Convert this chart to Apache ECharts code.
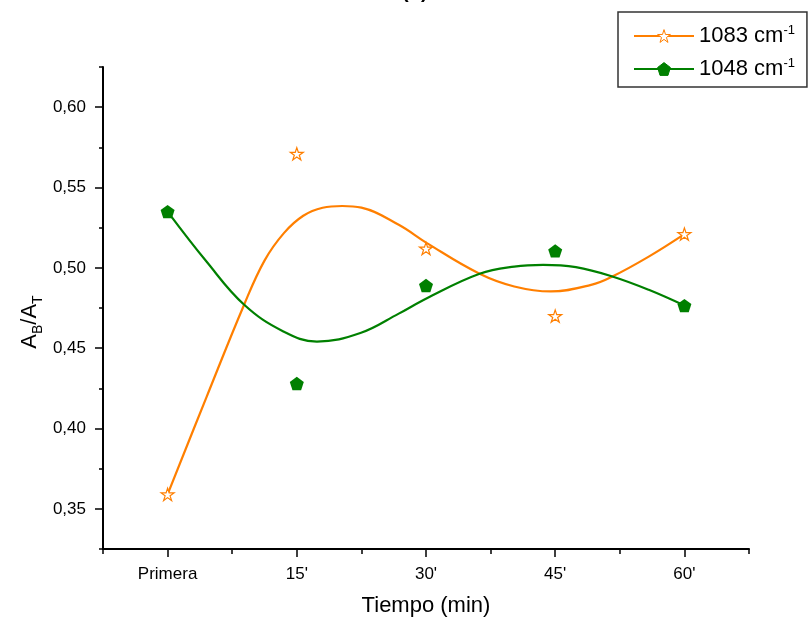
<!DOCTYPE html>
<html>
<head>
<meta charset="utf-8">
<script src="https://cdn.jsdelivr.net/npm/echarts@6/dist/echarts.min.js"></script>
<style>html,body{margin:0;padding:0;background:#fff;}#c{width:810px;height:622px;}</style>
</head>
<body>
<div id="c"></div>
<script>
// ---- data ----
const categories = ['Primera', "15'", "30'", "45'", "60'"];
const yTickLabels = ['0,35', '0,40', '0,45', '0,50', '0,55', '0,60'];
const names = ['1083', '1048'];
const points1083 = [0.359, 0.571, 0.512, 0.470, 0.521];
const points1048 = [0.535, 0.428, 0.489, 0.5105, 0.4765];
// fitted curves (x in category units)
const curve1083X = [0, 0.302, 0.593, 0.75, 0.9, 1.05, 1.2, 1.352, 1.5, 1.789, 2.007, 2.415, 2.683, 2.966, 3.278, 3.442, 3.724, 4];
const curve1083Y = [0.359, 0.4197, 0.4772, 0.5045, 0.5216, 0.5324, 0.5374, 0.5385, 0.5375, 0.5268, 0.5154, 0.4963, 0.4884, 0.4853, 0.4894, 0.4946, 0.5070, 0.521];
const curve1048X = [0, 0.301, 0.593, 0.896, 1.156, 1.492, 1.789, 2.007, 2.415, 2.683, 2.907, 3.160, 3.442, 3.724, 4];
const curve1048Y = [0.535, 0.5039, 0.4770, 0.4604, 0.4541, 0.4594, 0.4715, 0.4811, 0.4963, 0.5008, 0.5019, 0.5004, 0.4946, 0.4863, 0.4765];

const ORANGE = '#FF7F00';
const GREEN = '#008000';
const FONT = "'Liberation Sans', Arial, sans-serif";
const STAR = 'path://M0,-10 L2.25,-3.09 L9.51,-3.09 L3.63,1.18 L5.88,8.09 L0,3.82 L-5.88,8.09 L-3.63,1.18 L-9.51,-3.09 L-2.25,-3.09 Z';
const PENT = 'path://M0,-10 L9.51,-3.09 L5.88,8.09 L-5.88,8.09 L-9.51,-3.09 Z';

const chart = echarts.init(document.getElementById('c'), null, {renderer: 'canvas'});
const axisLine = {show: true, onZero: false, lineStyle: {color: '#000', width: 2}};
chart.setOption({
  animation: false,
  backgroundColor: '#fff',
  textStyle: {fontFamily: FONT},
  graphic: [{type: 'text', left: 402, top: -18, style: {text: '(b)', font: 'bold 20px ' + FONT, fill: '#000'}}],
  grid: {left: 103, right: 61, top: 67, bottom: 73, containLabel: false},
  legend: {
    data: names,
    orient: 'vertical',
    left: 618, top: 12,
    padding: [12, 12, 6, 15],
    itemGap: 9,
    itemWidth: 60, itemHeight: 16,
    borderColor: '#333', borderWidth: 1.5,
    itemStyle: {borderWidth: 1},
    formatter: n => n + ' cm{sup|-1}',
    textStyle: {fontSize: 22, color: '#000', fontFamily: FONT, lineHeight: 24,
      rich: {sup: {fontSize: 13, lineHeight: 10, verticalAlign: 'top', color: '#000', fontFamily: FONT}}}
  },
  xAxis: [
    {type: 'value', min: -0.5, max: 4.5, interval: 0.5, position: 'bottom',
     axisLine: axisLine, axisTick: {show: true, inside: false, length: 5, lineStyle: {color: '#000', width: 1.5}},
     axisLabel: {show: false}, splitLine: {show: false},
     name: 'Tiempo (min)', nameLocation: 'middle', nameGap: 46,
     nameTextStyle: {fontSize: 22, color: '#000', fontFamily: FONT}},
    {type: 'category', data: categories, position: 'bottom', boundaryGap: true,
     axisLine: {show: false, onZero: false}, axisTick: {show: true, alignWithLabel: true, length: 8, lineStyle: {color: '#000', width: 1.5}},
     axisLabel: {show: true, interval: 0, margin: 17, fontSize: 17, color: '#000', fontFamily: FONT},
     splitLine: {show: false}}
  ],
  yAxis: [
    {type: 'value', min: 0.325, max: 0.625, interval: 0.025, position: 'left',
     axisLine: axisLine, axisTick: {show: true, inside: false, length: 4, lineStyle: {color: '#000', width: 1.5}},
     axisLabel: {show: false}, splitLine: {show: false},
     name: '{a|A}{b|B}{a|/A}{b|T}', nameLocation: 'middle', nameGap: 58, nameRotate: 90,
     nameTextStyle: {fontSize: 22, color: '#000', fontFamily: FONT, padding: [0, 28, 0, 0],
       rich: {a: {fontSize: 22, lineHeight: 30, verticalAlign: 'middle', color: '#000', fontFamily: FONT},
              b: {fontSize: 14, lineHeight: 14, verticalAlign: 'bottom', color: '#000', fontFamily: FONT}}}},
    {type: 'category', data: yTickLabels, position: 'left', boundaryGap: true,
     axisLine: {show: false, onZero: false}, axisTick: {show: true, alignWithLabel: true, length: 8, lineStyle: {color: '#000', width: 1.5}},
     axisLabel: {show: true, interval: 0, margin: 17, fontSize: 17, color: '#000', fontFamily: FONT},
     splitLine: {show: false}}
  ],
  series: [
    {name: names[0], type: 'line', xAxisIndex: 0, yAxisIndex: 0, data: curve1083X.map((x, i) => [x, curve1083Y[i]]), smooth: 0.4,
     showSymbol: false, symbol: STAR, symbolKeepAspect: true,
     itemStyle: {color: '#fff', borderColor: ORANGE, borderWidth: 1.2},
     lineStyle: {color: ORANGE, width: 2.2}, z: 2},
    {name: names[1], type: 'line', xAxisIndex: 0, yAxisIndex: 0, data: curve1048X.map((x, i) => [x, curve1048Y[i]]), smooth: 0.4,
     showSymbol: false, symbol: PENT, symbolKeepAspect: true,
     itemStyle: {color: GREEN, borderColor: GREEN, borderWidth: 0},
     lineStyle: {color: GREEN, width: 2.2}, z: 2},
    {name: 'p1083', type: 'scatter', xAxisIndex: 0, yAxisIndex: 0,
     data: points1083.map((v, i) => [i, v]), symbol: STAR, symbolSize: 13, symbolKeepAspect: true,
     itemStyle: {color: '#fff', borderColor: ORANGE, borderWidth: 1.2, opacity: 1}, z: 3},
    {name: 'p1048', type: 'scatter', xAxisIndex: 0, yAxisIndex: 0,
     data: points1048.map((v, i) => [i, v]), symbol: PENT, symbolSize: 14, symbolKeepAspect: true,
     itemStyle: {color: GREEN, opacity: 1}, z: 3}
  ]
});
</script>
</body>
</html>
